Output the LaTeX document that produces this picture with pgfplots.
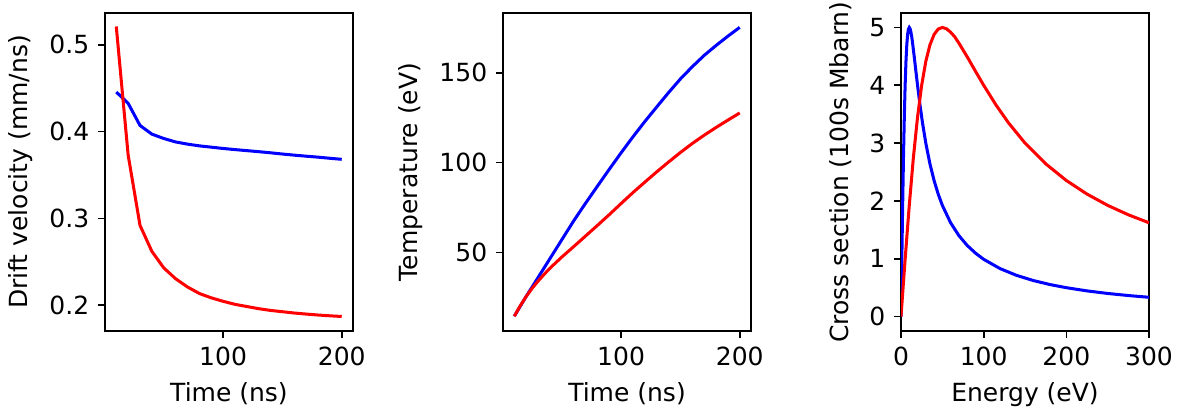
\documentclass[border=0pt]{standalone}
\usepackage{pgfplots}
\pgfplotsset{compat=1.18}
\usepackage{fontspec}
\setmainfont{DejaVu Sans}
\begin{document}
\fontsize{12pt}{14pt}\selectfont
\begin{tikzpicture}
\pgfplotsset{panel/.style={
  width=119.04pt, height=152.64pt, scale only axis,
  axis line style={line width=0.8pt},
  every tick/.style={line width=0.8pt, black},
  major tick length=3.4pt,
  tick align=outside, tick pos=left,
  /pgf/number format/assume math mode=true,
  ticklabel style={font=\fontsize{12pt}{14pt}\selectfont},
  label style={font=\fontsize{12pt}{14pt}\selectfont},
  every axis plot/.append style={line width=1.45pt, no marks},
  anchor=south west,
}}
% Panel 1
\begin{axis}[panel, at={(0pt,0pt)},
  xmin=0.5, xmax=209.5, ymin=0.1703, ymax=0.5365,
  xtick={100,200}, ytick={0.2,0.3,0.4,0.5},
  yticklabels={0.2,0.3,0.4,0.5},
  xlabel={Time (ns)}, ylabel={Drift velocity (mm/ns)}]
\addplot[color={rgb,255:red,0;green,0;blue,255}] coordinates {
(10,0.4455)(20,0.4325)(30,0.407)(40,0.397)(50,0.392)(60,0.388)(70,0.3855)
(80,0.3835)(90,0.382)(100,0.3805)(110,0.3792)(120,0.378)(130,0.3768)(140,0.3755)
(150,0.3741)(160,0.3728)(170,0.3716)(180,0.3705)(190,0.3692)(200,0.368)};
\addplot[color={rgb,255:red,255;green,0;blue,0}] coordinates {
(10,0.521)(20,0.373)(30,0.292)(40,0.262)(50,0.243)(60,0.2305)(70,0.221)
(80,0.2135)(90,0.2085)(100,0.2045)(110,0.201)(120,0.1985)(130,0.196)(140,0.194)
(150,0.1925)(160,0.191)(170,0.1898)(180,0.1887)(190,0.1878)(200,0.187)};
\end{axis}
% Panel 2
\begin{axis}[panel, at={(191.04pt,0pt)},
  xmin=0.5, xmax=209.5, ymin=6.3, ymax=183.2,
  xtick={100,200}, ytick={50,100,150},
  xlabel={Time (ns)}, ylabel={Temperature (eV)}]
\addplot[color={rgb,255:red,0;green,0;blue,255}] coordinates {
(10,14.5)(20,25.5)(30,36)(40,46.5)(50,57)(60,67.5)(70,77.3)(80,86.8)(90,96.2)
(100,105.4)(110,114.3)(120,122.8)(130,130.9)(140,138.9)(150,146.5)(160,153.3)
(170,159.6)(180,165.1)(190,170.3)(200,175.2)};
\addplot[color={rgb,255:red,255;green,0;blue,0}] coordinates {
(10,14.5)(15,20.3)(20,25.5)(25,30)(30,34)(35,37.7)(40,41.2)(50,47.4)(60,53.2)(70,59.1)(80,65)(90,71)
(100,77.2)(110,83.3)(120,89.1)(130,94.8)(140,100.3)(150,105.6)(160,110.6)
(170,115.2)(180,119.5)(190,123.6)(200,127.6)};
\end{axis}
% Panel 3
\begin{axis}[panel, at={(382.08pt,0pt)},
  xmin=0, xmax=300, ymin=-0.25, ymax=5.25,
  xtick={0,100,200,300}, ytick={0,1,2,3,4,5},
  xlabel={Energy (eV)}, ylabel={Cross section (100s Mbarn)}]
\addplot[color={rgb,255:red,0;green,0;blue,255}] coordinates {
(0,0)(0.5,0.499)(1,0.990)(2,1.923)(3,2.752)(4,3.448)(5,4.0)(6,4.412)(7,4.698)
(8,4.878)(9,4.972)(10,5)(11,4.977)(12,4.918)(13,4.838)(14,4.730)(16,4.494)(18,4.245)
(20,4.0)(23,3.657)(26,3.351)(30,3.0)(35,2.642)(40,2.353)(45,2.118)(50,1.923)
(60,1.622)(70,1.4)(80,1.231)(90,1.098)(100,0.990)(120,0.828)(140,0.711)
(160,0.623)(180,0.554)(200,0.499)(225,0.4436)(250,0.3994)(275,0.3632)(300,0.333)};
\addplot[color={rgb,255:red,255;green,0;blue,0}] coordinates {
(0,0)(2.5,0.499)(5,0.990)(10,1.923)(15,2.752)(20,3.448)(25,4.0)(30,4.412)(35,4.698)
(40,4.878)(45,4.972)(50,5)(55,4.977)(60,4.918)(65,4.838)(70,4.730)(80,4.494)(90,4.245)
(100,4.0)(115,3.657)(130,3.351)(150,3.0)(175,2.642)(200,2.353)(225,2.118)(250,1.923)
(275,1.760)(300,1.622)};
\end{axis}
\pgfresetboundingbox
\path[use as bounding box] (-50.4pt,-38.88pt) rectangle (514.56pt,158.88pt);
\end{tikzpicture}
\end{document}
